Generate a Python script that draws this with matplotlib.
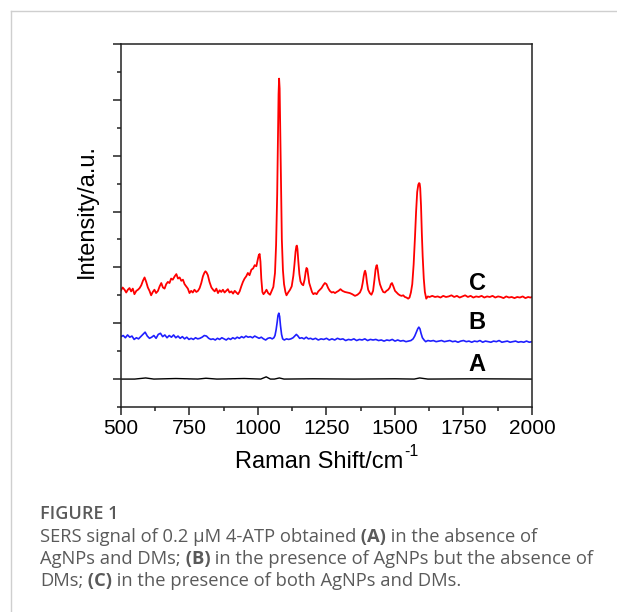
import matplotlib
matplotlib.use("Agg")
import matplotlib.pyplot as plt
from matplotlib.ticker import MultipleLocator
from matplotlib.lines import Line2D

# ---------------- data ----------------
c_x = [500, 506, 513, 519, 525, 531, 537, 543, 549, 556, 562, 568, 574, 580, 586, 592, 598, 604, 610, 616,
       622, 628, 635, 641, 647, 653, 659, 665, 671, 677, 683, 689, 696, 702, 708, 714, 720, 726, 732, 738,
       744, 750, 756, 762, 768, 775, 781, 787, 793, 799, 804, 808, 812, 817, 823, 830, 836, 842, 848, 854,
       860, 866, 872, 878, 884, 890, 896, 903, 909, 915, 921, 927, 933, 939, 945, 951, 957, 963, 969, 976,
       982, 988, 994, 1000, 1003, 1006, 1009, 1012, 1016, 1020, 1025, 1031, 1037, 1044, 1050, 1056, 1062,
       1066, 1070, 1073, 1075, 1077, 1079, 1081, 1084, 1087, 1091, 1095, 1100, 1104, 1110, 1117, 1123, 1129,
       1133, 1137, 1140, 1142, 1144, 1147, 1151, 1155, 1160, 1165, 1170, 1174, 1177, 1180, 1183, 1187, 1192,
       1197, 1202, 1208, 1214, 1220, 1226, 1232, 1238, 1244, 1250, 1256, 1262, 1269, 1275, 1281, 1287, 1294,
       1301, 1308, 1317, 1326, 1335, 1344, 1354, 1363, 1372, 1378, 1382, 1386, 1389, 1391, 1394, 1398, 1402,
       1408, 1414, 1420, 1425, 1429, 1432, 1434, 1437, 1441, 1445, 1451, 1457, 1463, 1469, 1475, 1481, 1485,
       1489, 1494, 1500, 1506, 1512, 1518, 1524, 1530, 1536, 1542, 1548, 1553, 1558, 1563, 1568, 1573, 1577,
       1581, 1585, 1588, 1590, 1592, 1595, 1598, 1601, 1605, 1609, 1614, 1620, 1626, 1636, 1646, 1656, 1666,
       1676, 1686, 1696, 1706, 1716, 1726, 1736, 1746, 1756, 1766, 1776, 1786, 1796, 1806, 1816, 1826, 1836,
       1846, 1856, 1866, 1876, 1886, 1896, 1906, 1916, 1926, 1936, 1946, 1956, 1966, 1976, 1986, 1994, 2000]
c_y = [1.59, 1.64, 1.60, 1.55, 1.60, 1.63, 1.57, 1.62, 1.52, 1.58, 1.60, 1.63, 1.68, 1.76, 1.82, 1.74, 1.64, 1.58, 1.50, 1.56,
       1.60, 1.54, 1.58, 1.66, 1.72, 1.64, 1.62, 1.70, 1.74, 1.72, 1.80, 1.78, 1.84, 1.88, 1.80, 1.82, 1.76, 1.78, 1.70, 1.66,
       1.62, 1.54, 1.58, 1.55, 1.60, 1.56, 1.58, 1.63, 1.72, 1.84, 1.90, 1.93, 1.91, 1.86, 1.74, 1.64, 1.60, 1.57, 1.62, 1.54,
       1.59, 1.56, 1.60, 1.55, 1.58, 1.61, 1.55, 1.57, 1.53, 1.58, 1.55, 1.52, 1.57, 1.66, 1.74, 1.80, 1.84, 1.90, 1.86, 1.96,
       1.98, 2.04, 2.02, 2.16, 2.22, 2.24, 2.10, 1.80, 1.56, 1.52, 1.55, 1.60, 1.54, 1.51, 1.58, 1.65, 1.90,
       2.40, 3.30, 4.40, 5.10, 5.38, 5.20, 4.50, 3.40, 2.50, 1.95, 1.70, 1.56, 1.50, 1.55, 1.60, 1.66, 1.85,
       2.05, 2.28, 2.38, 2.39, 2.33, 2.12, 1.88, 1.75, 1.70, 1.68, 1.78, 1.92, 1.99, 1.97, 1.86, 1.72, 1.64,
       1.56, 1.52, 1.54, 1.52, 1.57, 1.60, 1.63, 1.68, 1.72, 1.70, 1.63, 1.58, 1.55, 1.56, 1.54, 1.56, 1.58,
       1.61, 1.58, 1.56, 1.55, 1.54, 1.52, 1.49, 1.51, 1.55, 1.62, 1.72, 1.85, 1.92, 1.94, 1.88, 1.72, 1.60,
       1.54, 1.51, 1.58, 1.78, 1.96, 2.03, 2.04, 1.96, 1.80, 1.70, 1.62, 1.56, 1.55, 1.58, 1.60, 1.64, 1.70,
       1.72, 1.66, 1.58, 1.55, 1.52, 1.50, 1.49, 1.50, 1.47, 1.46, 1.44, 1.46, 1.55, 1.70, 2.05, 2.55, 3.00,
       3.35, 3.48, 3.51, 3.50, 3.42, 3.10, 2.60, 2.20, 1.80, 1.56, 1.44, 1.48, 1.47, 1.49, 1.47, 1.48, 1.46,
       1.49, 1.47, 1.48, 1.50, 1.47, 1.49, 1.46, 1.48, 1.50, 1.47, 1.49, 1.46, 1.48, 1.47, 1.49, 1.46, 1.48,
       1.47, 1.49, 1.46, 1.48, 1.47, 1.45, 1.48, 1.46, 1.47, 1.45, 1.47, 1.46, 1.48, 1.45, 1.47, 1.46, 1.47]

b_x = [500, 508, 516, 524, 532, 540, 548, 556, 564, 572, 580, 588, 596, 604, 612, 620, 628, 636, 644, 652,
       660, 668, 676, 684, 692, 700, 708, 716, 724, 732, 740, 748, 756, 764, 772, 780, 788, 796, 804, 812,
       820, 828, 836, 844, 852, 860, 868, 876, 884, 892, 900, 908, 916, 924, 932, 940, 948, 956, 964, 972,
       980, 988, 996, 1004, 1012, 1020, 1028, 1036, 1044, 1052, 1058, 1062, 1066, 1070, 1073, 1076, 1079,
       1082, 1086, 1090, 1096, 1104, 1112, 1120, 1128, 1134, 1140, 1146, 1152, 1160, 1168, 1176, 1184, 1192,
       1200, 1210, 1220, 1230, 1240, 1250, 1260, 1270, 1280, 1290, 1300, 1310, 1320, 1330, 1340, 1350, 1360,
       1370, 1380, 1390, 1400, 1410, 1420, 1430, 1440, 1450, 1460, 1470, 1480, 1490, 1500, 1510, 1520, 1530,
       1540, 1550, 1558, 1566, 1572, 1578, 1583, 1587, 1591, 1595, 1600, 1606, 1612, 1620, 1630, 1640, 1650,
       1660, 1670, 1680, 1690, 1700, 1710, 1720, 1730, 1740, 1750, 1760, 1770, 1780, 1790, 1800, 1810, 1820,
       1830, 1840, 1850, 1860, 1870, 1880, 1890, 1900, 1910, 1920, 1930, 1940, 1950, 1960, 1970, 1980, 1990, 2000]
b_y = [0.76, 0.78, 0.74, 0.79, 0.75, 0.77, 0.71, 0.74, 0.72, 0.76, 0.80, 0.84, 0.77, 0.73, 0.75, 0.78, 0.73, 0.80, 0.82, 0.76,
       0.79, 0.74, 0.78, 0.75, 0.79, 0.74, 0.77, 0.73, 0.76, 0.72, 0.75, 0.71, 0.73, 0.71, 0.74, 0.72, 0.73, 0.75, 0.78, 0.77,
       0.73, 0.71, 0.72, 0.70, 0.73, 0.71, 0.74, 0.72, 0.70, 0.73, 0.71, 0.74, 0.72, 0.75, 0.73, 0.76, 0.74, 0.77, 0.75, 0.76,
       0.74, 0.77, 0.75, 0.73, 0.75, 0.72, 0.70, 0.73, 0.74, 0.72, 0.74, 0.78, 0.88, 1.02, 1.14, 1.18, 1.12,
       0.96, 0.80, 0.72, 0.70, 0.72, 0.71, 0.72, 0.74, 0.77, 0.80, 0.77, 0.73, 0.74, 0.72, 0.75, 0.72, 0.73,
       0.71, 0.73, 0.70, 0.72, 0.71, 0.73, 0.70, 0.72, 0.70, 0.73, 0.71, 0.72, 0.69, 0.71, 0.70, 0.72, 0.69,
       0.71, 0.70, 0.72, 0.69, 0.71, 0.70, 0.71, 0.69, 0.70, 0.68, 0.70, 0.69, 0.71, 0.68, 0.70, 0.68, 0.69,
       0.67, 0.68, 0.69, 0.72, 0.77, 0.84, 0.90, 0.93, 0.90, 0.82, 0.74, 0.70, 0.67, 0.69, 0.68, 0.69, 0.67,
       0.68, 0.69, 0.67, 0.68, 0.69, 0.67, 0.68, 0.66, 0.68, 0.69, 0.67, 0.68, 0.66, 0.68, 0.67, 0.69, 0.66,
       0.68, 0.67, 0.66, 0.68, 0.67, 0.69, 0.66, 0.67, 0.68, 0.66, 0.67, 0.68, 0.66, 0.67, 0.66, 0.68, 0.66, 0.67]

a_x = [500, 550, 590, 620, 700, 780, 810, 850, 950, 1010, 1030, 1045, 1060, 1078, 1095, 1200, 1350, 1500, 1570, 1590, 1620, 1800, 2000]
a_y = [0.00, 0.00, 0.02, 0.00, 0.01, 0.00, 0.015, 0.00, 0.01, 0.00, 0.04, 0.00, 0.00, 0.02, 0.00, 0.005, 0.00, 0.005, 0.00, 0.02, 0.00, 0.005, 0.00]

series_labels = ["C", "B", "A"]
label_x = 1800
label_y = [1.71, 1.02, 0.26]
x_ticks = [500, 750, 1000, 1250, 1500, 1750, 2000]

# ---------------- figure ----------------
W, H = 617, 612
fig = plt.figure(figsize=(W / 100, H / 100), dpi=100)
fig.patch.set_facecolor('white')

# outer frame lines (top and left)
fig.add_artist(Line2D([11 / W, 1.0], [1 - 11 / H, 1 - 11 / H], color='#cfcfcf', lw=1.0, transform=fig.transFigure))
fig.add_artist(Line2D([11 / W, 11 / W], [0.0, 1 - 11 / H], color='#cfcfcf', lw=1.0, transform=fig.transFigure))

ax_l, ax_r, ax_t, ax_b = 121, 532, 44, 407
ax = fig.add_axes([ax_l / W, 1 - ax_b / H, (ax_r - ax_l) / W, (ax_b - ax_t) / H])

ax.plot(a_x, a_y, color='black', lw=1.0)
ax.plot(b_x, b_y, color='#1f1fff', lw=1.2)
ax.plot(c_x, c_y, color='#ff0000', lw=1.3)

for lab, ly in zip(series_labels, label_y):
    ax.text(label_x, ly, lab, ha='center', va='center', fontsize=17, fontweight='bold',
            family='Liberation Sans', color='black')

ax.set_xlim(500, 2000)
ax.set_ylim(-0.5, 6.0)
ax.set_xticks(x_ticks)
ax.xaxis.set_minor_locator(MultipleLocator(125))
ax.yaxis.set_major_locator(MultipleLocator(1))
ax.yaxis.set_minor_locator(MultipleLocator(0.5))
ax.set_yticklabels([])
ax.tick_params(axis='both', which='major', direction='out', length=5.5, width=1.1, color='#222222')
ax.tick_params(axis='both', which='minor', direction='out', length=3, width=1.1, color='#222222')
ax.tick_params(axis='x', which='major', labelsize=15, pad=3.5)
for t in ax.get_xticklabels():
    t.set_family('Liberation Sans')
for s in ax.spines.values():
    s.set_linewidth(1.1)
    s.set_color('#222222')

# x label with a hyphen superscript, drawn as two texts
renderer = fig.canvas.get_renderer()
xl_main = fig.text(0, 1 - 462 / H, 'Raman Shift/cm', fontsize=17, family='Liberation Sans',
                   ha='left', va='center')
bbm = xl_main.get_window_extent(renderer=renderer)
xl_sup = fig.text(0, 1 - 452 / H, '-1', fontsize=11.5, family='Liberation Sans', ha='left', va='center')
bbs = xl_sup.get_window_extent(renderer=renderer)
total = bbm.width + 1 + bbs.width
center_px = (ax_l + ax_r) / 2
start = center_px - total / 2
xl_main.set_x(start / W)
xl_sup.set_x((start + bbm.width + 1) / W)

yl = ax.set_ylabel('Intensity/a.u.', fontsize=17, family='Liberation Sans')
ax.yaxis.set_label_coords(-34 / (ax_r - ax_l), (ax_b - 211) / (ax_b - ax_t))
yl.set_va('center')
yl.set_ha('center')

# ---------------- caption ----------------
cap_color = '#5a5a5a'
cap_font = 'Open Sans'
cap_size = 13.2
fig.text(40 / W, 1 - 514 / H, 'FIGURE 1', fontsize=13, fontweight='semibold', family=cap_font,
         color=cap_color, ha='left', va='center')

caption_lines = [
    [("SERS signal of 0.2 \u03bcM 4-ATP obtained", False), (" (A)", True), (" in the absence of", False)],
    [("AgNPs and DMs;", False), (" (B)", True), (" in the presence of AgNPs but the absence of", False)],
    [("DMs;", False), (" (C)", True), (" in the presence of both AgNPs and DMs.", False)],
]
caption_y = [537, 559, 581]

for segs, ypx in zip(caption_lines, caption_y):
    xpx = 40
    for s, bold in segs:
        t = fig.text(xpx / W, 1 - ypx / H, s, fontsize=cap_size, family=cap_font,
                     fontweight='bold' if bold else 'normal', color=cap_color, ha='left', va='center')
        bb = t.get_window_extent(renderer=renderer)
        xpx += bb.width

fig.savefig('out.png', dpi=100, facecolor='white')
